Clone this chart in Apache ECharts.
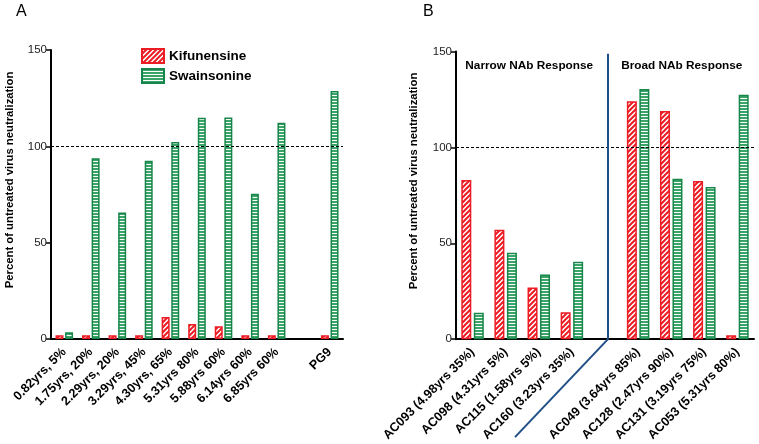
<!DOCTYPE html>
<html><head><meta charset="utf-8">
<script src="https://cdn.jsdelivr.net/npm/echarts@6/dist/echarts.min.js"></script>
<style>html,body{margin:0;padding:0;background:#fff}#c{width:759px;height:444px}</style>
</head><body><div id="c"></div>
<script>
// ---- data ----
const catsA = ['0.82yrs, 5%','1.75yrs, 20%','2.29yrs, 20%','3.29yrs, 45%','4.30yrs, 65%','5.31yrs 80%','5.88yrs 60%','6.14yrs 60%','6.85yrs 60%','','PG9'];
const kifA = [2, 2, 2, 2, 11.4, 7.8, 6.6, 2, 2, null, 2];
const swaA = [3.5, 93.8, 65.7, 92.5, 102.2, 114.8, 115, 75.4, 112.3, null, 128.7];
const catsB = ['AC093 (4.98yrs 35%)','AC098 (4.31yrs 5%)','AC115 (1.58yrs 5%)','AC160 (3.23yrs 35%)','','AC049 (3.64yrs 85%)','AC128 (2.47yrs 90%)','AC131 (3.19yrs 75%)','AC053 (5.31yrs 80%)'];
const kifB = [83, 57, 27, 14, null, 124, 119, 82.5, 2];
const swaB = [13.8, 45, 33.7, 40.4, null, 130.4, 83.7, 79.3, 127.5];
const seriesNames = ['Kifunensine', 'Swainsonine'];
const yMin = 0, yMax = 150, yStep = 50;
const refLine = 100;
const dividerTop = 148.8;
const groupLabels = ['Narrow NAb Response', 'Broad NAb Response'];
const yName = 'Percent of untreated virus neutralization';

// ---- styles ----
const RED = '#ec1c24', GREEN = '#17864a', GREEN_FILL = '#3aa367';
const FONT = '"Liberation Sans", Arial, sans-serif';
function patDiag() {
  const c = document.createElement('canvas'); c.width = 5; c.height = 5;
  const g = c.getContext('2d');
  g.fillStyle = '#ffffff'; g.fillRect(0, 0, 5, 5);
  g.strokeStyle = RED; g.lineWidth = 2;
  g.beginPath();
  g.moveTo(-1, 6); g.lineTo(6, -1);
  g.moveTo(-1, 1); g.lineTo(1, -1);
  g.moveTo(4, 6); g.lineTo(6, 4);
  g.stroke();
  return c;
}
function patHoriz() {
  const c = document.createElement('canvas'); c.width = 4; c.height = 3;
  const g = c.getContext('2d');
  g.fillStyle = '#ffffff'; g.fillRect(0, 0, 4, 3);
  g.fillStyle = GREEN_FILL; g.fillRect(0, 0, 4, 2);
  return c;
}
const redStyle = { color: { image: patDiag(), repeat: 'repeat' }, borderColor: RED, borderWidth: 1.5 };
const greenStyle = { color: { image: patHoriz(), repeat: 'repeat' }, borderColor: GREEN, borderWidth: 1.5 };

const chart = echarts.init(document.getElementById('c'), null, { renderer: 'canvas' });

function xAx(gi, cats) {
  return {
    type: 'category', gridIndex: gi, data: cats, boundaryGap: true,
    axisLine: { lineStyle: { color: '#000', width: 2 } },
    axisTick: { alignWithLabel: true, length: 5, lineStyle: { color: '#000', width: 2 }, interval: 0 },
    axisLabel: { rotate: 45, interval: 0, margin: 11, color: '#000', fontFamily: FONT, fontWeight: 'bold', fontSize: 12.6 }
  };
}
function yAx(gi) {
  return {
    type: 'value', gridIndex: gi, min: yMin, max: yMax, interval: yStep,
    axisLine: { show: true, lineStyle: { color: '#000', width: 2 } },
    axisTick: { show: true, length: 5, lineStyle: { color: '#000', width: 1.5 } },
    axisLabel: { color: '#222', fontFamily: FONT, fontSize: 11.5, margin: 4 },
    splitLine: { show: false }
  };
}
const refMark = {
  symbol: 'none', silent: true, label: { show: false },
  lineStyle: { type: [3, 2], color: '#000', width: 1.2 },
  data: [{ yAxis: refLine }]
};

chart.setOption({
  animation: false,
  backgroundColor: '#fff',
  grid: [
    { left: 51, top: 50, width: 292, height: 289 },
    { left: 456, top: 51.5, width: 298, height: 288 }
  ],
  xAxis: [xAx(0, catsA), xAx(1, catsB)],
  yAxis: [yAx(0), yAx(1)],
  legend: {
    data: seriesNames, orient: 'vertical', left: 136, top: 43, itemWidth: 22, itemHeight: 14, itemGap: 4,
    icon: 'rect',
    textStyle: { color: '#000', fontFamily: FONT, fontWeight: 'bold', fontSize: 13.5 },
    selectedMode: false
  },
  series: [
    { name: seriesNames[0], type: 'bar', xAxisIndex: 0, yAxisIndex: 0, data: kifA, barWidth: 8, barGap: '20%', itemStyle: redStyle },
    { name: seriesNames[1], type: 'bar', xAxisIndex: 0, yAxisIndex: 0, data: swaA, barWidth: 8, barGap: '20%', itemStyle: greenStyle, markLine: refMark },
    { name: seriesNames[0], type: 'bar', xAxisIndex: 1, yAxisIndex: 1, data: kifB, barWidth: 10, barGap: '25%', itemStyle: redStyle },
    { name: seriesNames[1], type: 'bar', xAxisIndex: 1, yAxisIndex: 1, data: swaB, barWidth: 10, barGap: '25%', itemStyle: greenStyle, markLine: refMark }
  ]
});

const pTop = chart.convertToPixel({ gridIndex: 1 }, [4, dividerTop]);
const pBot = chart.convertToPixel({ gridIndex: 1 }, [4, 0]);
const xDiv = pTop[0] + 3;
const gTopY = chart.convertToPixel({ gridIndex: 1 }, [0, 142.5])[1];
const narrowX = (chart.convertToPixel({ gridIndex: 1 }, [0, 0])[0] + chart.convertToPixel({ gridIndex: 1 }, [3, 0])[0]) / 2 + 7;
const broadX = (chart.convertToPixel({ gridIndex: 1 }, [5, 0])[0] + chart.convertToPixel({ gridIndex: 1 }, [8, 0])[0]) / 2 - 6;
const lineStyle = { stroke: '#1f4f86', lineWidth: 2 };
const yNameFont = 'bold 11.3px ' + FONT;
chart.setOption({
  graphic: [
    { type: 'line', silent: true, shape: { x1: xDiv, y1: pTop[1], x2: xDiv, y2: pBot[1] }, style: lineStyle, z: 10 },
    { type: 'line', silent: true, shape: { x1: xDiv, y1: pBot[1], x2: xDiv - 93, y2: pBot[1] + 98 }, style: lineStyle, z: 10 },
    { type: 'text', left: 16, top: 4, style: { text: 'A', font: '16px ' + FONT, fill: '#000' } },
    { type: 'text', left: 423, top: 4, style: { text: 'B', font: '16px ' + FONT, fill: '#000' } },
    { type: 'text', x: narrowX, y: gTopY, style: { text: groupLabels[0], font: 'bold 11.8px ' + FONT, fill: '#000', align: 'center', verticalAlign: 'middle' } },
    { type: 'text', x: broadX, y: gTopY, style: { text: groupLabels[1], font: 'bold 11.8px ' + FONT, fill: '#000', align: 'center', verticalAlign: 'middle' } },
    { type: 'text', x: 10, y: 180, rotation: Math.PI / 2, style: { text: yName, font: yNameFont, fill: '#000', align: 'center', verticalAlign: 'middle' } },
    { type: 'text', x: 414, y: 181, rotation: Math.PI / 2, style: { text: yName, font: yNameFont, fill: '#000', align: 'center', verticalAlign: 'middle' } }
  ]
});
</script>
</body></html>
